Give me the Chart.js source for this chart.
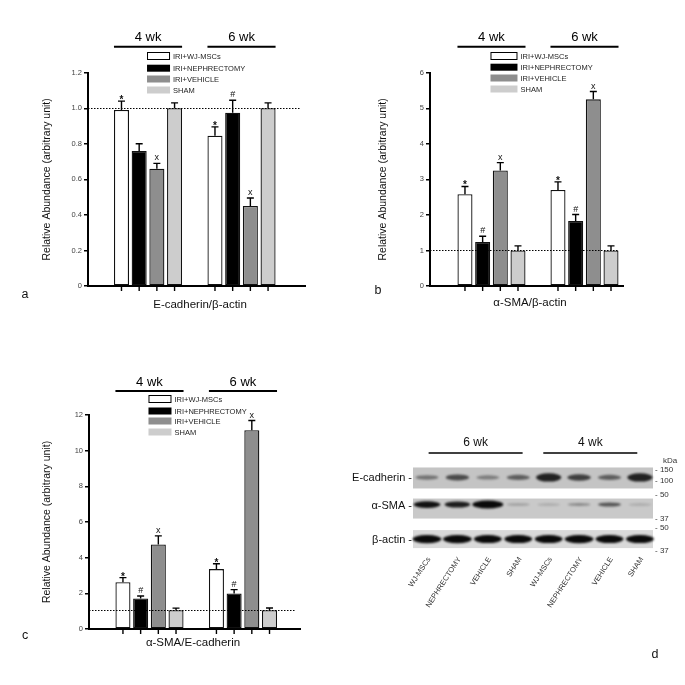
<!DOCTYPE html>
<html>
<head>
<meta charset="utf-8">
<script src="https://cdn.jsdelivr.net/npm/chart.js@4.4.0/dist/chart.umd.min.js"></script>
<style>
  body { margin: 0; background: #fff; width: 685px; height: 685px; position: relative; overflow: hidden; }
  canvas { position: absolute; }
</style>
</head>
<body>
<canvas id="chartA" width="340" height="330" style="left:0;top:0"></canvas>
<canvas id="chartB" width="345" height="330" style="left:340px;top:0"></canvas>
<canvas id="chartC" width="340" height="355" style="left:0;top:330px"></canvas>
<canvas id="chartD" width="350" height="255" style="left:335px;top:430px"></canvas>
<script>
// groups and series shared by the three bar panels
const groups = ['4 wk', '6 wk'];
const series = ['IRI+WJ-MSCs', 'IRI+NEPHRECTOMY', 'IRI+VEHICLE', 'SHAM'];

// panel a: E-cadherin/β-actin  (one row per series: [4 wk, 6 wk])
const ecadMean = [[0.99, 0.845], [0.76, 0.975], [0.66, 0.45], [1.00, 1.00]];
const ecadSem  = [[0.05, 0.05], [0.04, 0.07], [0.03, 0.045], [0.03, 0.03]];
const ecadMark = [['*', '*'], ['', '#'], ['x', 'x'], ['', '']];
const ecadTicks = [0, 0.2, 0.4, 0.6, 0.8, 1.0, 1.2];

// panel b: α-SMA/β-actin
const smaMean = [[2.58, 2.70], [1.24, 1.83], [3.25, 5.25], [1.00, 1.00]];
const smaSem  = [[0.22, 0.23], [0.16, 0.18], [0.22, 0.22], [0.13, 0.13]];
const smaMark = [['*', '*'], ['#', '#'], ['x', 'x'], ['', '']];
const smaTicks = [0, 1, 2, 3, 4, 5, 6];

// panel c: α-SMA/E-cadherin
const ratioMean = [[2.62, 3.36], [1.71, 1.99], [4.74, 11.15], [1.05, 1.05]];
const ratioSem  = [[0.26, 0.30], [0.14, 0.22], [0.48, 0.54], [0.12, 0.13]];
const ratioMark = [['*', '*'], ['#', '#'], ['x', 'x'], ['', '']];
const ratioTicks = [0, 2, 4, 6, 8, 10, 12];

// panel d: western blot, band darkness per lane (0..1)
const blotLanes = ['WJ-MSCs', 'NEPHRECTOMY', 'VEHICLE', 'SHAM', 'WJ-MSCs', 'NEPHRECTOMY', 'VEHICLE', 'SHAM'];
const blotWeeks = ['6 wk', '4 wk'];
const blotRows = ['E-cadherin', 'α-SMA', 'β-actin'];
const ecadBand = [0.4, 0.6, 0.35, 0.5, 0.8, 0.65, 0.5, 0.8];
const smaBand = [0.88, 0.82, 1.0, 0.2, 0.15, 0.3, 0.55, 0.15];
const actinBand = [0.95, 0.95, 0.92, 0.92, 0.92, 0.95, 0.92, 0.92];
const kdaMarks = [['150', '100'], ['50', '37'], ['50', '37']];

const FONT = '"Liberation Sans", Arial, sans-serif';
const fills = ['#ffffff', '#000000', '#8e8e8e', '#cdcdcd'];

// error bars, symbols, headers, legend and titles drawn on top of a bar panel
const barExtras = {
  id: 'barExtras',
  afterDraw(chart, args, o) {
    const { ctx, chartArea: a, scales: { x, y } } = chart;
    ctx.save();

    // reference line
    ctx.strokeStyle = '#000';
    ctx.lineWidth = 1;
    ctx.setLineDash([1.5, 1.5]);
    const ry = Math.round(y.getPixelForValue(o.ref)) + 0.5;
    ctx.beginPath();
    ctx.moveTo(a.left, ry);
    ctx.lineTo(a.right - 4, ry);
    ctx.stroke();
    ctx.setLineDash([]);

    // error bars, marks and ticks under the axis
    chart.data.datasets.forEach((ds, i) => {
      chart.getDatasetMeta(i).data.forEach((el, j) => {
        const top = y.getPixelForValue(ds.data[j].y + ds.sem[j]);
        ctx.strokeStyle = '#000';
        ctx.lineWidth = 1.4;
        ctx.beginPath();
        ctx.moveTo(el.x, el.y);
        ctx.lineTo(el.x, top);
        ctx.moveTo(el.x - 3.5, top);
        ctx.lineTo(el.x + 3.5, top);
        ctx.moveTo(el.x, a.bottom);
        ctx.lineTo(el.x, a.bottom + 5);
        ctx.stroke();
        if (ds.mark[j]) {
          ctx.fillStyle = '#111';
          ctx.font = (ds.mark[j] === '*' ? 'bold 10px ' : '9px ') + FONT;
          ctx.textAlign = 'center';
          ctx.textBaseline = 'alphabetic';
          ctx.fillText(ds.mark[j], el.x, top - (ds.mark[j] === '*' ? -2 : 3));
        }
      });
    });

    // group headers
    const first = chart.getDatasetMeta(0).data;
    const last = chart.getDatasetMeta(chart.data.datasets.length - 1).data;
    groups.forEach((g, j) => {
      const l = first[j].x - first[j].width / 2;
      const r = last[j].x + last[j].width / 2;
      ctx.lineWidth = 2;
      ctx.beginPath();
      ctx.moveTo(l, a.top + o.headLine);
      ctx.lineTo(r, a.top + o.headLine);
      ctx.stroke();
      ctx.fillStyle = '#000';
      ctx.font = '13px ' + FONT;
      ctx.textAlign = 'center';
      ctx.textBaseline = 'middle';
      ctx.fillText(g, (l + r) / 2, a.top + o.headText);
    });

    // legend
    const lx = x.getPixelForValue(0) - 1;
    ctx.font = '7.5px ' + FONT;
    ctx.textAlign = 'left';
    ctx.textBaseline = 'middle';
    series.forEach((s, i) => {
      const cy = a.top + o.legendRows[i];
      ctx.fillStyle = fills[i];
      ctx.fillRect(lx, cy - 3.5, o.legendW, 7);
      if (i === 0) {
        ctx.lineWidth = 1;
        ctx.strokeStyle = '#000';
        ctx.strokeRect(lx + 0.5, cy - 3.5, o.legendW - 1, 7);
      }
      ctx.fillStyle = '#222';
      ctx.fillText(s, lx + o.legendW + 3, cy + 0.5);
    });

    // axis titles and panel letter
    ctx.fillStyle = '#111';
    ctx.font = '11.5px ' + FONT;
    ctx.textAlign = 'center';
    ctx.fillText(o.xTitle, o.xTitleX, a.bottom + o.xTitleDy);
    ctx.save();
    ctx.translate(o.yTitleX, (a.top + a.bottom) / 2);
    ctx.rotate(-Math.PI / 2);
    ctx.font = '10.5px ' + FONT;
    ctx.fillText('Relative Abundance (arbitrary unit)', 0, 0);
    ctx.restore();
    ctx.font = '12.5px ' + FONT;
    ctx.fillText(o.letter, o.letterX, o.letterY);
    ctx.restore();
  }
};

function barPanel(id, means, sems, marks, ticks, g) {
  const datasets = series.map((name, i) => ({
    label: name,
    data: groups.map((_, j) => ({ x: j, y: means[i][j] })),
    sem: sems[i],
    mark: marks[i],
    backgroundColor: fills[i],
    borderColor: '#111',
    borderWidth: 1.3,
    borderSkipped: false,
    categoryPercentage: g.catPct,
    barPercentage: 0.85
  }));
  return new Chart(document.getElementById(id), {
    type: 'bar',
    data: { datasets },
    options: {
      responsive: false,
      animation: false,
      layout: { padding: g.pad },
      plugins: {
        legend: { display: false },
        tooltip: { enabled: false },
        barExtras: g
      },
      scales: {
        x: {
          type: 'linear',
          min: g.xMin,
          max: g.xMax,
          offset: false,
          grid: { display: false, offset: false },
          ticks: { display: false },
          border: { color: '#000', width: 2 },
          afterBuildTicks: s => { s.ticks = groups.map((_, j) => ({ value: j })); },
          afterFit: s => { s.height = 0; }
        },
        y: {
          min: 0,
          max: ticks[ticks.length - 1],
          afterBuildTicks: s => { s.ticks = ticks.map(v => ({ value: v })); },
          afterFit: s => { s.width = 30; },
          grid: { drawOnChartArea: false, drawTicks: true, tickLength: 4, color: '#000', lineWidth: 1.5 },
          border: { color: '#000', width: 2 },
          ticks: {
            padding: 2,
            color: '#444',
            font: { family: FONT, size: 7.5 },
            callback: g.fmt
          }
        }
      }
    },
    plugins: [barExtras]
  });
}

barPanel('chartA', ecadMean, ecadSem, ecadMark, ecadTicks, {
  pad: { left: 58, right: 35, top: 72.7, bottom: 44 },
  xMin: -0.642, xMax: 1.679, catPct: 0.757, ref: 1,
  fmt: v => (v === 0 ? '0' : v.toFixed(1)),
  headLine: -26, headText: -35, legendRows: [-16.7, -4.5, 6.3, 17.3], legendW: 23,
  xTitle: 'E-cadherin/β-actin', xTitleX: 200, xTitleDy: 19,
  yTitleX: 47, letter: 'a', letterX: 25, letterY: 295
});

barPanel('chartB', smaMean, smaSem, smaMark, smaTicks, {
  pad: { left: 60, right: 62, top: 72.7, bottom: 44 },
  xMin: -0.661, xMax: 1.414, catPct: 0.76, ref: 1,
  fmt: v => String(v),
  headLine: -26, headText: -35, legendRows: [-16.7, -5.5, 5.3, 16.3], legendW: 27,
  xTitle: 'α-SMA/β-actin', xTitleX: 190, xTitleDy: 17,
  yTitleX: 43, letter: 'b', letterX: 38, letterY: 291
});

barPanel('chartC', ratioMean, ratioSem, ratioMark, ratioTicks, {
  pad: { left: 59, right: 40, top: 85, bottom: 56 },
  xMin: -0.647, xMax: 1.61, catPct: 0.757, ref: 1.08,
  fmt: v => String(v),
  headLine: -24, headText: -33, legendRows: [-16, -4, 6, 17], legendW: 23,
  xTitle: 'α-SMA/E-cadherin', xTitleX: 193, xTitleDy: 14,
  yTitleX: 47, letter: 'c', letterX: 25, letterY: 306
});

// western blot strips and bands, placed through the chart scales
const rowStyle = [
  { bg: '#c4c4c4', half: 10.5, dy: -0.5, h: 5.5, label: 0 },
  { bg: '#c9c9c9', half: 10, dy: -4, h: 4, label: -2.5 },
  { bg: '#d9d9d9', half: 9, dy: 0, h: 4.5, label: 1 }
];
const kdaOffsets = [[-8, 3], [-14, 10], [-11, 12]];

const blotDraw = {
  id: 'blotDraw',
  beforeDatasetsDraw(chart) {
    const { ctx, chartArea: a, scales: { x, y } } = chart;
    ctx.save();
    blotRows.forEach((name, r) => {
      const st = rowStyle[r];
      const cy = y.getPixelForValue(r);
      ctx.filter = 'blur(0.6px)';
      ctx.fillStyle = st.bg;
      ctx.fillRect(a.left, cy - st.half, a.right - a.left, st.half * 2);
      ctx.filter = 'blur(1.3px)';
      chart.getDatasetMeta(r).data.forEach((el, i) => {
        const v = chart.data.datasets[r].band[i];
        ctx.fillStyle = 'rgba(10,10,10,' + Math.min(1, v * 1.1) + ')';
        ctx.beginPath();
        ctx.ellipse(el.x, el.y + st.dy, 11.5 + 4 * Math.pow(v, 6), st.h * (0.6 + v * v * 1.4) / 2, 0, 0, Math.PI * 2);
        ctx.fill();
      });
      ctx.filter = 'none';

      // row label
      ctx.fillStyle = '#111';
      ctx.font = '11px ' + FONT;
      ctx.textAlign = 'right';
      ctx.textBaseline = 'middle';
      ctx.fillText(name + ' -', a.left - 1, cy + st.label);

      // kDa markers
      ctx.font = '8px ' + FONT;
      ctx.textAlign = 'left';
      ctx.fillStyle = '#333';
      kdaMarks[r].forEach((k, m) => {
        ctx.fillText('- ' + k, a.right + 2, cy + kdaOffsets[r][m]);
      });
    });
    ctx.fillText('kDa', a.right + 10, a.top - 2);

    // lane labels
    ctx.font = '7.5px ' + FONT;
    ctx.fillStyle = '#333';
    ctx.textAlign = 'right';
    blotLanes.forEach((lane, i) => {
      ctx.save();
      ctx.translate(x.getPixelForValue(i) + 2, a.bottom + 3);
      ctx.rotate(-57 * Math.PI / 180);
      ctx.fillText(lane, 0, 0);
      ctx.restore();
    });

    // week headers
    blotWeeks.forEach((w, k) => {
      const c = (x.getPixelForValue(k * 4) + x.getPixelForValue(k * 4 + 3)) / 2 + (k === 0 ? 3 : -4);
      ctx.strokeStyle = '#000';
      ctx.lineWidth = 1.5;
      ctx.beginPath();
      ctx.moveTo(c - 47, a.top - 10);
      ctx.lineTo(c + 47, a.top - 10);
      ctx.stroke();
      ctx.fillStyle = '#111';
      ctx.font = '12px ' + FONT;
      ctx.textAlign = 'center';
      ctx.fillText(w, c, a.top - 20);
    });

    ctx.font = '12.5px ' + FONT;
    ctx.textAlign = 'center';
    ctx.fillText('d', 320, 225);
    ctx.restore();
  }
};

new Chart(document.getElementById('chartD'), {
  type: 'scatter',
  data: {
    datasets: [ecadBand, smaBand, actinBand].map((band, r) => ({
      label: blotRows[r],
      data: blotLanes.map((_, i) => ({ x: i, y: r })),
      band,
      pointRadius: 0
    }))
  },
  options: {
    responsive: false,
    animation: false,
    layout: { padding: { left: 78, right: 32, top: 33, bottom: 130 } },
    plugins: { legend: { display: false }, tooltip: { enabled: false } },
    scales: {
      x: { type: 'linear', min: -0.46, max: 7.43, display: false },
      y: { type: 'linear', min: -0.49, max: 2.52, reverse: true, display: false }
    }
  },
  plugins: [blotDraw]
});
</script>
</body>
</html>
